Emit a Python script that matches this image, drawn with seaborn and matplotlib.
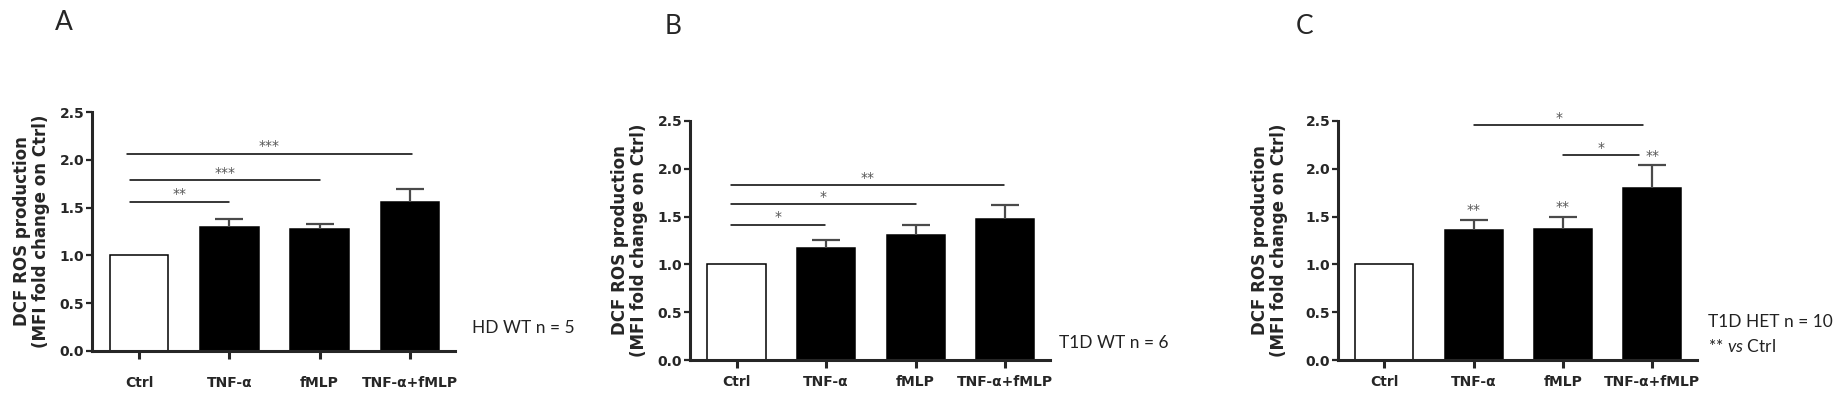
import numpy as np
import pandas as pd
import matplotlib
matplotlib.use("Agg")
import matplotlib.pyplot as plt
import seaborn as sns

# Data (mean fold change on Ctrl and SEM)
categories = ["Ctrl", "TNF-α", "fMLP", "TNF-α+fMLP"]
hd_wt_mean = [1.0, 1.30, 1.28, 1.56]
hd_wt_sem = [0.0, 0.08, 0.045, 0.13]
t1d_wt_mean = [1.0, 1.175, 1.305, 1.47]
t1d_wt_sem = [0.0, 0.075, 0.105, 0.15]
t1d_het_mean = [1.0, 1.355, 1.37, 1.80]
t1d_het_sem = [0.0, 0.11, 0.13, 0.235]

# significance brackets: (from, to, height, label)
hd_wt_sig = [(-0.1, 1.0, 1.56, "**"), (-0.1, 2.0, 1.785, "***"), (-0.13, 3.02, 2.064, "***")]
t1d_wt_sig = [(-0.06, 0.99, 1.415, "*"), (-0.06, 2.0, 1.63, "*"), (-0.06, 2.99, 1.826, "**")]
t1d_het_sig = [(1.0, 2.9, 2.458, "*"), (2.0, 2.85, 2.14, "*")]
t1d_het_vs_ctrl = ["", "**", "**", "**"]

sns.set_style("ticks")
plt.rcParams["font.family"] = ["DejaVu Sans"]
plt.rcParams["mathtext.fontset"] = "custom"
plt.rcParams["mathtext.it"] = "Lato:italic"
plt.rcParams["mathtext.rm"] = "Lato"

W, H = 1837, 399
fig = plt.figure(figsize=(W / 100, H / 100), dpi=100)

def px_axes(left, right, top, bottom):
    return fig.add_axes([left / W, 1 - bottom / H, (right - left) / W, (bottom - top) / H])

palette = {"Ctrl": "white", "TNF-α": "black", "fMLP": "black", "TNF-α+fMLP": "black"}

def panel(ax, means, sems, sigs, xpad, ylabel_x):
    df = pd.DataFrame({"cond": categories, "val": means})
    sns.barplot(data=df, x="cond", y="val", hue="cond", palette=palette, order=categories,
                width=0.65, edgecolor="black", linewidth=1.1, legend=False, ax=ax)
    xs = np.arange(len(categories))
    errs = np.array(sems)
    mask = errs > 0
    _, caps, _ = ax.errorbar(xs[mask], np.array(means)[mask],
                             yerr=[np.zeros(mask.sum()), errs[mask]],
                             fmt="none", ecolor="#4a4a4a", elinewidth=1.6, capsize=10,
                             capthick=1.6, zorder=3)
    caps[0].set_visible(False)  # only the upper half of the error bar
    for x1, x2, y, lab in sigs:
        ax.plot([x1, x2], [y, y], color="black", lw=1.1, clip_on=False, zorder=4)
        ax.text((x1 + x2) / 2, y + 0.005, lab, ha="center", va="bottom",
                fontsize=10, color="#555555", clip_on=False)
    ax.set_xlim(-0.52, 3.5)
    ax.set_ylim(0, 2.5)
    ax.set_yticks([0, 0.5, 1.0, 1.5, 2.0, 2.5])
    ax.set_yticklabels(["0.0", "0.5", "1.0", "1.5", "2.0", "2.5"], fontsize=10, fontweight="bold")
    ax.set_xticks(xs)
    ax.set_xticklabels(categories, fontsize=10, fontweight="bold")
    ax.set_xlabel("")
    ax.set_ylabel("DCF ROS production\n(MFI fold change on Ctrl)", fontsize=12,
                  fontweight="bold", linespacing=1.05)
    ax.yaxis.set_label_coords(ylabel_x, 0.5)
    sns.despine(ax=ax)
    for s in ("left", "bottom"):
        ax.spines[s].set_linewidth(2.2)
    ax.tick_params(axis="y", direction="out", length=4.5, width=1.6, pad=1)
    ax.tick_params(axis="x", direction="out", length=6, width=2.2, pad=xpad)

ax_a = px_axes(92, 455, 112, 351)
panel(ax_a, hd_wt_mean, hd_wt_sem, hd_wt_sig, 12, -0.116)

ax_b = px_axes(690, 1050, 121, 360)
panel(ax_b, t1d_wt_mean, t1d_wt_sem, t1d_wt_sig, 5, -0.117)

ax_c = px_axes(1338, 1697, 121, 360)
panel(ax_c, t1d_het_mean, t1d_het_sem, t1d_het_sig, 5, -0.139)
for i, lab in enumerate(t1d_het_vs_ctrl):
    if lab:
        ax_c.text(i, t1d_het_mean[i] + t1d_het_sem[i] + 0.03, lab, ha="center", va="bottom",
                  fontsize=10, color="#555555")

# panel letters and group notes
def ftext(x, y, s, **kw):
    fig.text(x / W, 1 - y / H, s, **kw)

ftext(64, 23, "A", fontsize=19, family="Lato", ha="center", va="center")
ftext(673, 27, "B", fontsize=19, family="Lato", ha="center", va="center")
ftext(1305, 27, "C", fontsize=19, family="Lato", ha="center", va="center")

ftext(472, 328, "HD WT n = 5", fontsize=12.5, family="Lato", ha="left", va="center", color="#222222")
ftext(1059, 343, "T1D WT n = 6", fontsize=12.5, family="Lato", ha="left", va="center", color="#222222")
ftext(1708, 322, "T1D HET n = 10", fontsize=12.5, family="Lato", ha="left", va="center", color="#222222")
ftext(1708, 346, r"** $\it{vs}$ Ctrl", fontsize=12.5, family="Lato", ha="left", va="center", color="#222222")

fig.savefig("out.png", dpi=100, facecolor="white")
